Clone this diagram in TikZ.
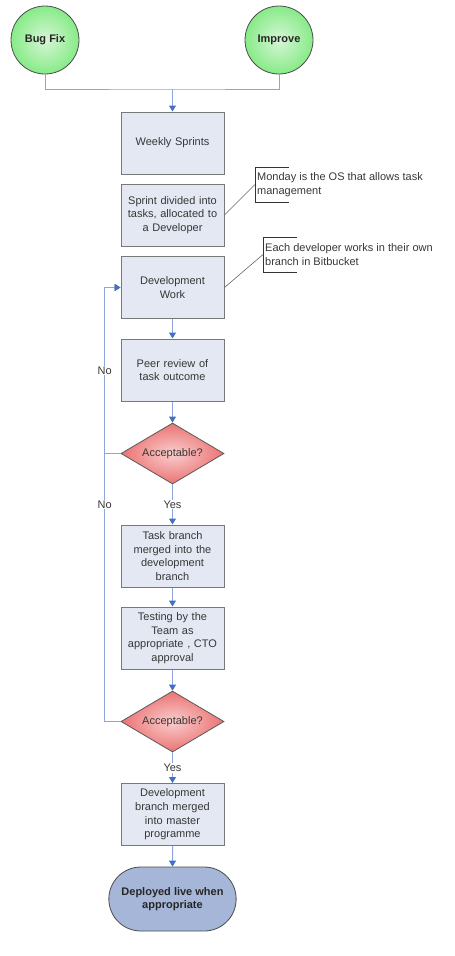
\documentclass[tikz,border=0pt]{standalone}
\usepackage{fontspec}
\setmainfont{Liberation Sans}
\usetikzlibrary{shapes.geometric,shapes.misc,arrows.meta}

\definecolor{boxfill}{RGB}{227,232,243}
\definecolor{boxline}{RGB}{120,120,120}
\definecolor{flowline}{RGB}{140,165,220}
\definecolor{flowtip}{RGB}{70,110,195}
\definecolor{startin}{RGB}{215,245,215}
\definecolor{startout}{RGB}{135,235,135}
\definecolor{testin}{RGB}{250,205,205}
\definecolor{testout}{RGB}{235,115,115}
\definecolor{endfill}{RGB}{165,182,216}
\definecolor{txt}{RGB}{55,55,55}

\tikzset{
  stepbox/.style={draw=boxline, fill=boxfill, line width=1pt,
    minimum width=103pt, minimum height=62pt, inner sep=2pt,
    text width=97pt, align=center, text=txt,
    font=\fontsize{11}{13.7}\selectfont},
  startnode/.style={circle, draw=black!70, inner color=startin,
    outer color=startout, line width=0.8pt,
    minimum size=68pt, inner sep=0pt, text=black!85,
    font=\bfseries\fontsize{11}{13}\selectfont},
  testnode/.style={diamond, aspect=1.7, draw=black!65, inner color=testin,
    outer color=testout, line width=0.8pt, minimum width=103pt,
    minimum height=61pt, inner sep=0pt, text=txt,
    font=\fontsize{11}{13}\selectfont},
  endnode/.style={rounded rectangle, draw=black!70, fill=endfill,
    line width=0.8pt, minimum width=134pt, minimum height=64pt,
    align=center, text=black!85, font=\bfseries\fontsize{11}{13.7}\selectfont},
  notenode/.style={anchor=west, minimum height=35pt, inner xsep=2pt,
    align=left, text=txt, font=\fontsize{11}{13.7}\selectfont},
  flow/.style={draw=flowline, line width=1pt,
    -{Triangle[length=6pt,width=7pt,color=flowtip]}},
  flowlabel/.style={fill=white, text=txt, inner sep=1pt,
    font=\fontsize{11}{13}\selectfont},
  bracket/.style={draw=black!80, line width=0.6pt},
  noteline/.style={draw=black!60, line width=0.6pt}
}

\begin{document}
\begin{tikzpicture}[x = 1pt, y = -1pt]

  \useasboundingbox (0,0) rectangle (455,956);

  \def\bx{172.5}

  % sources
  \node[startnode] (bugfix)  at (45,40)  {Bug Fix};
  \node[startnode] (improve) at (279,40) {Improve};

  % steps
  \node[stepbox] (weekly) at (\bx,143) {Weekly Sprints};
  \node[stepbox] (sprint) at (\bx,215) {Sprint divided into\\tasks, allocated to\\a Developer};
  \node[stepbox] (devwork) at (\bx,287.5) {Development\\Work};
  \node[stepbox] (review) at (\bx,370) {Peer review of\\task outcome};
  \node[testnode] (accept1) at (\bx,453.5) {Acceptable?};
  \node[stepbox] (taskmerge) at (\bx,556) {Task branch\\merged into the\\development\\branch};
  \node[stepbox] (testing) at (\bx,638) {Testing by the\\Team as\\appropriate , CTO\\approval};
  \node[testnode] (accept2) at (\bx,721.5) {Acceptable?};
  \node[stepbox] (devmerge) at (\bx,814.5) {Development\\branch merged\\into master\\programme};
  \node[endnode] (deploy) at (\bx,899) {Deployed live when\\appropriate};

  % notes
  \node[notenode] (note1) at (255,184.5) {Monday is the OS that allows task\\management};
  \node[notenode] (note2) at (263,254.5) {Each developer works in their own\\branch in Bitbucket};
  \foreach \n in {note1,note2}
  \draw[bracket] ([xshift=34pt]\n.north west) -- (\n.north west)
  -- (\n.south west) -- ++(34,0);
  \draw[noteline] (sprint.east) -- (note1.west);
  \draw[noteline] (devwork.east) -- (note2.west);

  % flow
  \coordinate (join) at (\bx,89);
  \draw[draw=flowline, line width=1pt] (bugfix.south) |- (join) -| (improve.south);
  \draw[flow] (join) -- (weekly.north);
  \draw[flow] (devwork) -- (review);
  \draw[flow] (review) -- (accept1);
  \draw[flow] (accept1) -- node[flowlabel] {Yes} (taskmerge);
  \draw[flow] (taskmerge) -- (testing);
  \draw[flow] (testing) -- (accept2);
  \draw[flow] (accept2) -- node[flowlabel] {Yes} (devmerge);
  \draw[flow] (devmerge) -- (deploy);

  % loops back
  \draw[flow] (accept2.west) -- ++(-16,0) |- node[pos=0.25, flowlabel] {No} (devwork.west);
  \draw[flow] (accept1.west) -- ++(-16,0) |- node[pos=0.25, flowlabel] {No} (devwork.west);
\end{tikzpicture}
\end{document}
